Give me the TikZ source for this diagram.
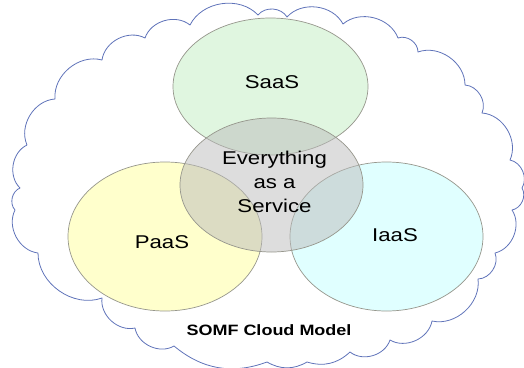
\documentclass[tikz,border=0pt]{standalone}
\usepackage{fontspec}
\newfontfamily\somffont{Liberation Sans}[FakeStretch=1.2]
\usetikzlibrary{shapes.geometric}

\definecolor{saasgreen}{RGB}{224,246,224}
\definecolor{paasyellow}{RGB}{255,255,204}
\definecolor{iaascyan}{RGB}{224,255,255}
\definecolor{xaasgrey}{RGB}{187,187,187}
\definecolor{setline}{RGB}{150,150,140}
\definecolor{cloudblue}{RGB}{95,115,185}

\tikzset{
	setshape/.style={ellipse, draw=setline, line width=0.7pt, inner sep=0pt},
	settext/.style={font=\somffont\fontsize{18.5}{24}\selectfont, inner sep=0pt},
	puff/.style={bend left=55},
	flatpuff/.style={bend left=30},
}

\begin{document}
\begin{tikzpicture}[x=1pt,y=-1pt]
	\useasboundingbox (0,0) rectangle (524,367);
	% the cloud round the model
	\draw[cloudblue, line width=0.8pt, line join=round]
		(15,210) to[puff] (20,188) to[puff] (27,145) to[puff] (55,99)
		to[puff] (102,60) to[puff] (145,38) to[puff] (190,25) to[puff] (258,15)
		to[puff] (287,17) to[puff] (343,24) to[puff] (398,38) to[puff] (418,52)
		to[puff] (465,85) to[puff] (482,113) to[puff] (510,160) to[puff] (522,188)
		to[puff] (512,210) to[puff] (495,253) to[puff] (478,279) to[puff] (432,321)
		to[puff] (390,340) to[puff] (350,352) to[flatpuff] (307,362) to[flatpuff] (267,362)
		to[flatpuff] (174,346) to[puff] (135,328) to[puff] (102,298) to[puff] (38,253)
		to[puff] (15,210);
	% the four sets
	\node[setshape, fill=saasgreen, minimum width=195pt, minimum height=137pt] (saas) at (270.5,86.5) {};
	\node[setshape, fill=paasyellow, minimum width=194pt, minimum height=149pt] (paas) at (165,236.5) {};
	\node[setshape, fill=iaascyan, minimum width=193pt, minimum height=149pt] (iaas) at (386.5,236.5) {};
	\node[setshape, fill=xaasgrey, fill opacity=0.5, minimum width=183pt, minimum height=134pt] (xaas) at (271.5,185) {};
	% labels
	\node[settext, anchor=base] (saaslabel) at (272,88) {SaaS};
	\node[settext, anchor=base] (paaslabel) at (162,248) {PaaS};
	\node[settext, anchor=base] (iaaslabel) at (395,241) {IaaS};
	\node[settext, align=center] (xaaslabel) at (274.5,182) {Everything\\as a\\Service};
	\node[settext, font=\somffont\bfseries\fontsize{15}{18}\selectfont, anchor=base] (modellabel) at (269,335) {SOMF Cloud Model};
\end{tikzpicture}
\end{document}
